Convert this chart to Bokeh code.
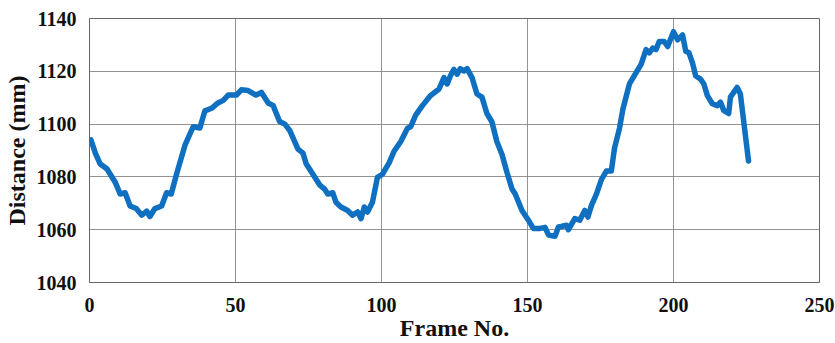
from bokeh.plotting import figure
from bokeh.embed import file_html
from bokeh.resources import INLINE
from bokeh.models import Range1d, FixedTicker

frames = [0.5, 2, 3.6, 6, 8.8, 10.5, 12.2, 13.9, 16, 17.9, 19.6, 20.7, 22.4, 24.7, 26.4, 28,
          29.8, 32.7, 35.5, 37.8, 39.5, 41.8, 44, 45.8, 47.5, 50.3, 52, 54.3, 57, 58.9, 61.2,
          62.9, 65.1, 66.9, 68.6, 71.4, 73.1, 74.2, 76.5, 78.8, 80.5, 81.6, 83.3, 84.4, 86.1,
          88.4, 90.1, 91.8, 93, 94.1, 95.2, 96.9, 98.6, 100.3, 102.6, 104.3, 106.6, 108.9, 110,
          111.7, 114, 116.8, 119.7, 121.4, 122.5, 123.6, 124.8, 125.9, 127, 128.2, 129.3, 131,
          132.7, 134.4, 136.1, 137.8, 139.5, 141.3, 143, 144.7, 145.8, 148.1, 150.3, 152, 154.3,
          156, 157.2, 159.4, 160.6, 161.5, 163.4, 164, 166.2, 167.9, 169.6, 170.7, 171.9, 173.6,
          175.3, 177, 178.7, 179.8, 181.5, 182.7, 184.9, 187.2, 188.9, 190.6, 191.7, 192.9, 194,
          195.1, 196.8, 198, 200, 201.4, 203.1, 204.2, 205.3, 206.5, 207.6, 209.3, 210.4, 211.6,
          213.3, 215, 216.1, 217.2, 218.9, 219.5, 221.8, 222.9, 225.7]
distance = [1094, 1089, 1085, 1083, 1078, 1073.5, 1074, 1069, 1068, 1065.5, 1067, 1065, 1068,
            1069, 1074, 1073.5, 1081, 1092, 1099, 1098.5, 1105, 1106, 1108, 1109, 1111, 1111,
            1113, 1112.7, 1111, 1112, 1108, 1107, 1101, 1100, 1097.5, 1090.5, 1089, 1085, 1081,
            1077, 1075.4, 1073.5, 1074, 1070.4, 1068.6, 1067.3, 1065.5, 1066.7, 1064.2, 1068.6,
            1066.7, 1070.4, 1079.8, 1081, 1085.3, 1089.7, 1093.4, 1098.4, 1099, 1103.4, 1107,
            1110.8, 1113.3, 1117.6, 1115.2, 1118.3, 1120.7, 1118.9, 1121, 1120.1, 1121, 1117.6,
            1111.4, 1110.2, 1104, 1100.9, 1093.4, 1088.4, 1081.6, 1075.4, 1073.5, 1067.3, 1063.6,
            1060.5, 1060.5, 1060.9, 1058, 1057.5, 1061, 1061.2, 1061.7, 1060, 1064.2, 1063.6,
            1067.3, 1064.8, 1069.2, 1073.5, 1079, 1082.2, 1082.2, 1090.9, 1098.4, 1105.8, 1115.2,
            1119.5, 1122.6, 1128.2, 1127, 1128.8, 1128.2, 1131.3, 1131.3, 1129.4, 1135, 1131.9,
            1133.8, 1127.6, 1127, 1123.2, 1118.3, 1117, 1115.2, 1110.8, 1107.7, 1107, 1108.3,
            1105.2, 1104, 1110.2, 1113.9, 1111.4, 1086]

x_ticks = [0, 50, 100, 150, 200, 250]
y_ticks = [1040, 1060, 1080, 1100, 1120, 1140]

FONT = "Liberation Serif"

p = figure(width=835, height=343, output_backend="svg", toolbar_location=None,
           x_range=Range1d(0, 250), y_range=Range1d(1040, 1140),
           min_border_left=86, min_border_top=18, min_border_right=16, min_border_bottom=56)

p.line(frames, distance, line_color="#0f6fc0", line_width=5.5, line_join="round", line_cap="round")

p.outline_line_color = "#666666"
p.outline_line_width = 1
p.background_fill_color = "white"
p.border_fill_color = "white"

for g in (p.xgrid[0], p.ygrid[0]):
    g.grid_line_color = "#808080"
    g.grid_line_alpha = 0.85
    g.grid_line_width = 1

p.xaxis.ticker = FixedTicker(ticks=x_ticks)
p.yaxis.ticker = FixedTicker(ticks=y_ticks)
p.xgrid[0].ticker = FixedTicker(ticks=x_ticks)
p.ygrid[0].ticker = FixedTicker(ticks=y_ticks)

for ax in (p.xaxis[0], p.yaxis[0]):
    ax.axis_line_color = None
    ax.major_tick_line_color = None
    ax.minor_tick_line_color = None
    ax.major_label_text_font = FONT
    ax.major_label_text_font_style = "bold"
    ax.major_label_text_font_size = "20px"
    ax.major_label_text_color = "#111111"
    ax.axis_label_text_font = FONT
    ax.axis_label_text_font_style = "bold"
    ax.axis_label_text_font_size = "24px"
    ax.axis_label_text_color = "#111111"

p.xaxis.axis_label = "Frame No."
p.yaxis.axis_label = "Distance (mm)"
p.xaxis.major_label_standoff = 9
p.yaxis.major_label_standoff = 7
p.xaxis.axis_label_standoff = 0
p.yaxis.axis_label_standoff = 4

open("out.html", "w").write(file_html(p, INLINE))
